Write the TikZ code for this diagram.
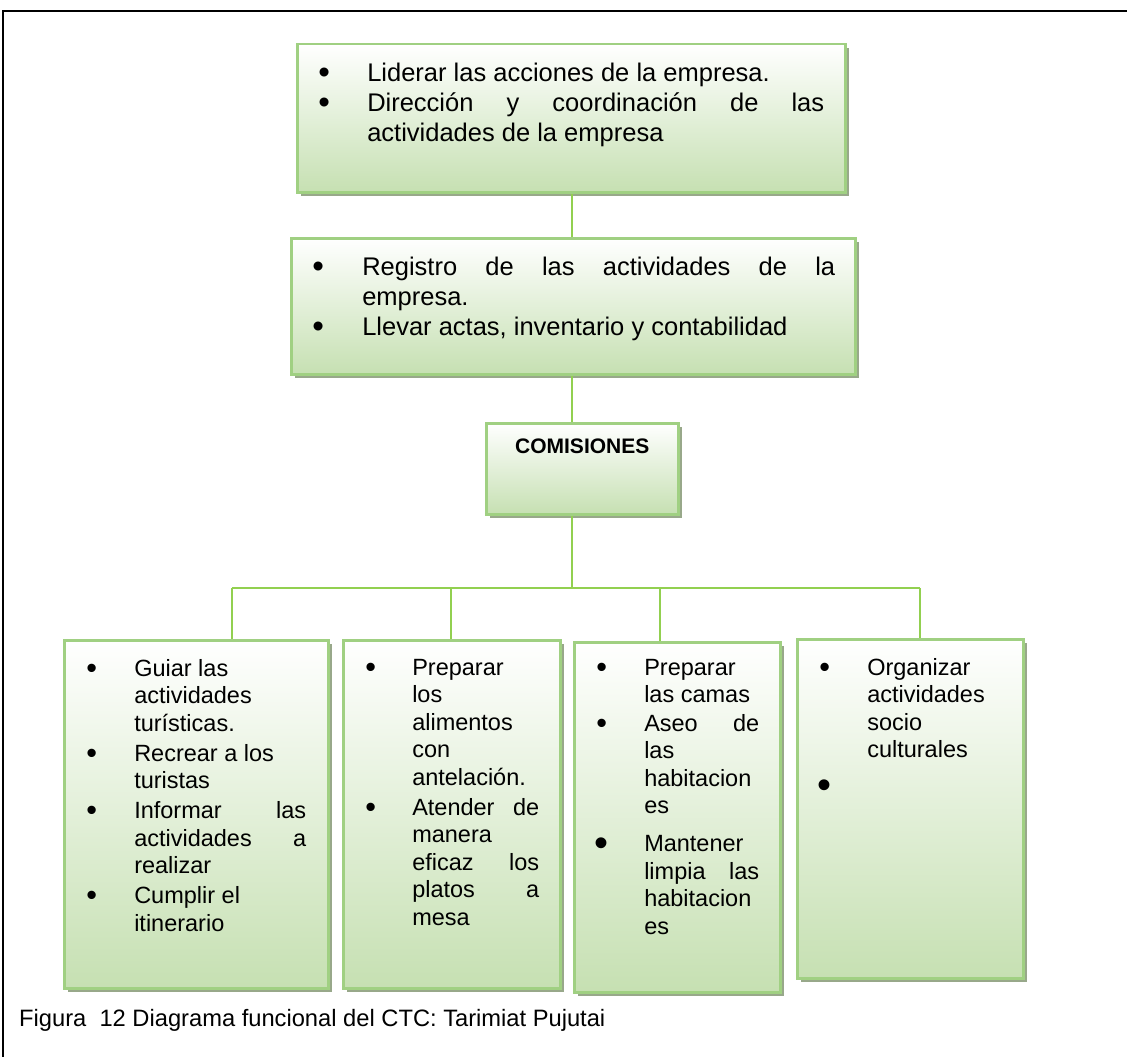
\documentclass[tikz,border=0pt]{standalone}
\usepackage{graphicx}
\usepackage{fontspec}
\setmainfont{Liberation Sans}
\usetikzlibrary{positioning,shadows}
\definecolor{Marco}{RGB}{160,208,130}
\definecolor{Hoja}{RGB}{198,224,178}
\definecolor{Sombra}{RGB}{152,168,138}
\definecolor{Rama}{RGB}{146,208,80}

% una caja: ancho, alto, sangria de vineta, sangria de texto, margen derecho
\newcommand{\caja}[6]{%
  \begin{minipage}[t][#2pt][t]{#1pt}%
  \vspace*{0pt}%
  \def\vinx{#3pt}\def\texx{#4pt}\rightskip=#5pt\relax
  \parindent=0pt #6%
  \end{minipage}}
\newcommand{\punto}{\raisebox{-1.8pt}{\scalebox{1.3}{•}}}
\newcommand{\puntazo}{\kern-2pt\raisebox{-4.2pt}{\scalebox{1.7}{•}}}
\newcommand{\vineta}[2][\punto]{\par\noindent\hangindent=\texx\hangafter=1
  \hspace*{\vinx}\makebox[\dimexpr\texx-\vinx\relax][l]{#1}#2\par}

\tikzset{
  recuadro/.style={draw=Marco, line width=2.5pt, top color=white,
    bottom color=Hoja, inner sep=0pt, anchor=north west,
    drop shadow={shadow xshift=4pt, shadow yshift=-4pt, fill=Sombra, opacity=1}},
  rama/.style={draw=Rama, line width=1.6pt},
  grande/.style={font=\fontsize{25.5}{30}\selectfont},
  chica/.style={font=\fontsize{23.5}{27.5}\selectfont},
}

\begin{document}
\begin{tikzpicture}[x=1pt,y=-1pt]
\useasboundingbox (0,0) rectangle (1127,1057);
\draw[line width=2.5pt] (3,1057) -- (3,11) -- (1127,11);

% niveles superiores
\node[recuadro,grande] (lider) at (296,43) {\caja{548}{148}{21}{70}{21}{\vspace*{19pt}%
  \vineta{Liderar las acciones de la empresa.}
  \vineta{Dirección\hfill y\hfill coordinación\hfill de\hfill las\\actividades de la empresa}}};
\node[recuadro,grande] (registro) at (290,237) {\caja{564}{136}{21}{71}{20}{\vspace*{19pt}%
  \vineta{Registro\hfill de\hfill las\hfill actividades\hfill de\hfill la\\empresa.}
  \vineta{Llevar actas, inventario y contabilidad}}};
\node[recuadro] (comisiones) at (485,422) {\begin{minipage}[t][91pt][t]{192pt}\vspace*{15.4pt}\centering
  \fontsize{21}{24}\selectfont\bfseries COMISIONES\end{minipage}};

% comisiones
\node[recuadro,chica] (guia) at (63,639) {\caja{264}{348}{22}{70}{22}{\vspace*{19pt}%
  \vineta{Guiar las\\actividades\\turísticas.}\vspace{2.5pt}
  \vineta{Recrear a los\\turistas}\vspace{2.5pt}
  \vineta{Informar\hfill las\\actividades\hfill a\\realizar}\vspace{2.5pt}
  \vineta{Cumplir el\\itinerario}}};
\node[recuadro,chica] (cocina) at (342,639) {\caja{217}{348}{22}{69}{21}{\vspace*{19pt}%
  \vineta{Preparar\\los\\alimentos\\con\\antelación.}\vspace{2.5pt}
  \vineta{Atender\hfill de\\manera\\eficaz\hfill los\\platos\hfill a\\mesa}}};
\node[recuadro,chica] (hospedaje) at (573,641) {\caja{206}{350}{22}{70}{21}{\vspace*{17pt}%
  \vineta{Preparar\\las camas}\vspace{1pt}
  \vineta{Aseo\hfill de\\las\\habitacion\\es}\vspace{10.5pt}
  \vineta[\puntazo]{Mantener\\limpia\hfill las\\habitacion\\es}}};
\node[recuadro,chica] (cultura) at (796,638) {\caja{226}{339}{22}{70}{21}{\vspace*{19pt}%
  \vineta{Organizar\\actividades\\socio\\culturales}\vspace{9.5pt}
  \vineta[\puntazo]{\mbox{}}}};

% conectores
\coordinate (nudo) at (572,588);
\coordinate (ramaA) at (232,588);
\coordinate (ramaB) at (451,588);
\coordinate (ramaC) at (660,588);
\coordinate (ramaD) at (920,588);
\draw[rama] (lider.south -| nudo) -- (registro.north -| nudo);
\draw[rama] (registro.south -| nudo) -- (comisiones.north -| nudo);
\draw[rama] (comisiones.south -| nudo) -- (nudo);
\draw[rama] (ramaA) -- (ramaD);
\draw[rama] (ramaA) -- (ramaA |- guia.north);
\draw[rama] (ramaB) -- (ramaB |- cocina.north);
\draw[rama] (ramaC) -- (ramaC |- hospedaje.north);
\draw[rama] (ramaD) -- (ramaD |- cultura.north);

\node[anchor=base west,inner sep=0pt,font=\fontsize{23.7}{27}\selectfont] (pie) at (19,1026)
  {Figura \ 12 Diagrama funcional del CTC: Tarimiat Pujutai};
\end{tikzpicture}
\end{document}
